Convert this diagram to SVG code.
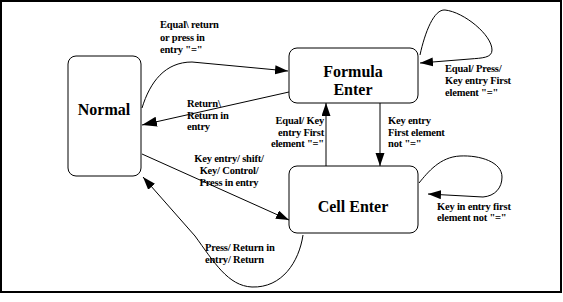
<svg xmlns="http://www.w3.org/2000/svg" width="563" height="302" viewBox="0 0 563 302">
<style>
.box{fill:#fff;stroke:#000;stroke-width:1}
.title{font-weight:bold;font-size:16px;fill:#000;text-anchor:middle}
.lbl{font-weight:bold;font-size:10.5px;fill:#000;letter-spacing:-0.2px}
.edge{fill:none;stroke:#000;stroke-width:1}
</style>
<defs>
<marker id="ah" markerUnits="userSpaceOnUse" markerWidth="14" markerHeight="10" refX="13" refY="4.5" orient="auto">
<path d="M0,0 L13,4.5 L0,9 z" fill="#000"/>
</marker>
<marker id="ahb" markerUnits="userSpaceOnUse" markerWidth="16" markerHeight="12" refX="15" refY="5" orient="auto">
<path d="M0,0 L15,5 L0,10 z" fill="#000"/>
</marker>
</defs>
<rect x="1" y="1" width="560" height="291" fill="#fff" stroke="#000" stroke-width="2"/>

<g id="connectors">
<path class="edge" d="M142,108 C150,82 165,62 192,62 L288,71" marker-end="url(#ah)"/>
<path class="edge" d="M289,92 L142,125" stroke-width="2" marker-end="url(#ahb)"/>
<path class="edge" d="M380,103 L380,166" marker-end="url(#ah)"/>
<path class="edge" d="M326,166 L326,103" marker-end="url(#ah)"/>
<path class="edge" d="M142,154 L289,220" marker-end="url(#ah)"/>
<path class="edge" d="M303,235 C299,262 282,288 252,287 C228,286 214,262 195,236 L143,177" marker-end="url(#ah)"/>
<path class="edge" d="M420,55 C425,32 434,9 445,10 C464,12 492,35 492,50 C492,58 482,58 470,59 L420,63" marker-end="url(#ah)"/>
<path class="edge" d="M419,183 C428,172 440,157 460,156 C480,155 502,162 502,177 C502,188 495,196 483,197 L428,194" marker-end="url(#ah)"/>
</g>

<g font-family="Liberation Serif, Times New Roman, serif">
<g id="normal">
<rect class="box" x="68" y="56" width="73" height="120" rx="8"/>
<text class="title" x="104" y="115">Normal</text>
</g>
<g id="formula-enter">
<rect class="box" x="289" y="48" width="129" height="55" rx="8"/>
<text class="title" x="353" y="77">Formula</text>
<text class="title" x="353" y="95">Enter</text>
</g>
<g id="cell-enter">
<rect class="box" x="289" y="166" width="129" height="67" rx="8"/>
<text class="title" x="353" y="212">Cell Enter</text>
</g>

<g id="labels">
<text class="lbl" x="160" y="28">Equal\ return</text>
<text class="lbl" x="160" y="41">or press in</text>
<text class="lbl" x="160" y="53">entry "="</text>

<text class="lbl" x="187" y="107">Return\</text>
<text class="lbl" x="187" y="118.5">Return in</text>
<text class="lbl" x="187" y="130">entry</text>

<text class="lbl" x="324" y="124" text-anchor="end">Equal/ Key</text>
<text class="lbl" x="324" y="136" text-anchor="end">entry First</text>
<text class="lbl" x="324" y="147" text-anchor="end">element "="</text>

<text class="lbl" x="388" y="124">Key entry</text>
<text class="lbl" x="388" y="136">First element</text>
<text class="lbl" x="388" y="147">not "="</text>

<text class="lbl" x="445" y="72">Equal/ Press/</text>
<text class="lbl" x="445" y="84">Key entry First</text>
<text class="lbl" x="445" y="96">element "="</text>

<text class="lbl" x="437" y="210">Key in entry first</text>
<text class="lbl" x="437" y="221">element not "="</text>

<text class="lbl" x="229" y="162" text-anchor="middle">Key entry/ shift/</text>
<text class="lbl" x="229" y="174" text-anchor="middle">Key/ Control/</text>
<text class="lbl" x="229" y="186" text-anchor="middle">Press in entry</text>

<text class="lbl" x="205" y="251">Press/ Return in</text>
<text class="lbl" x="205" y="263">entry/ Return</text>
</g>
</g>
</svg>
